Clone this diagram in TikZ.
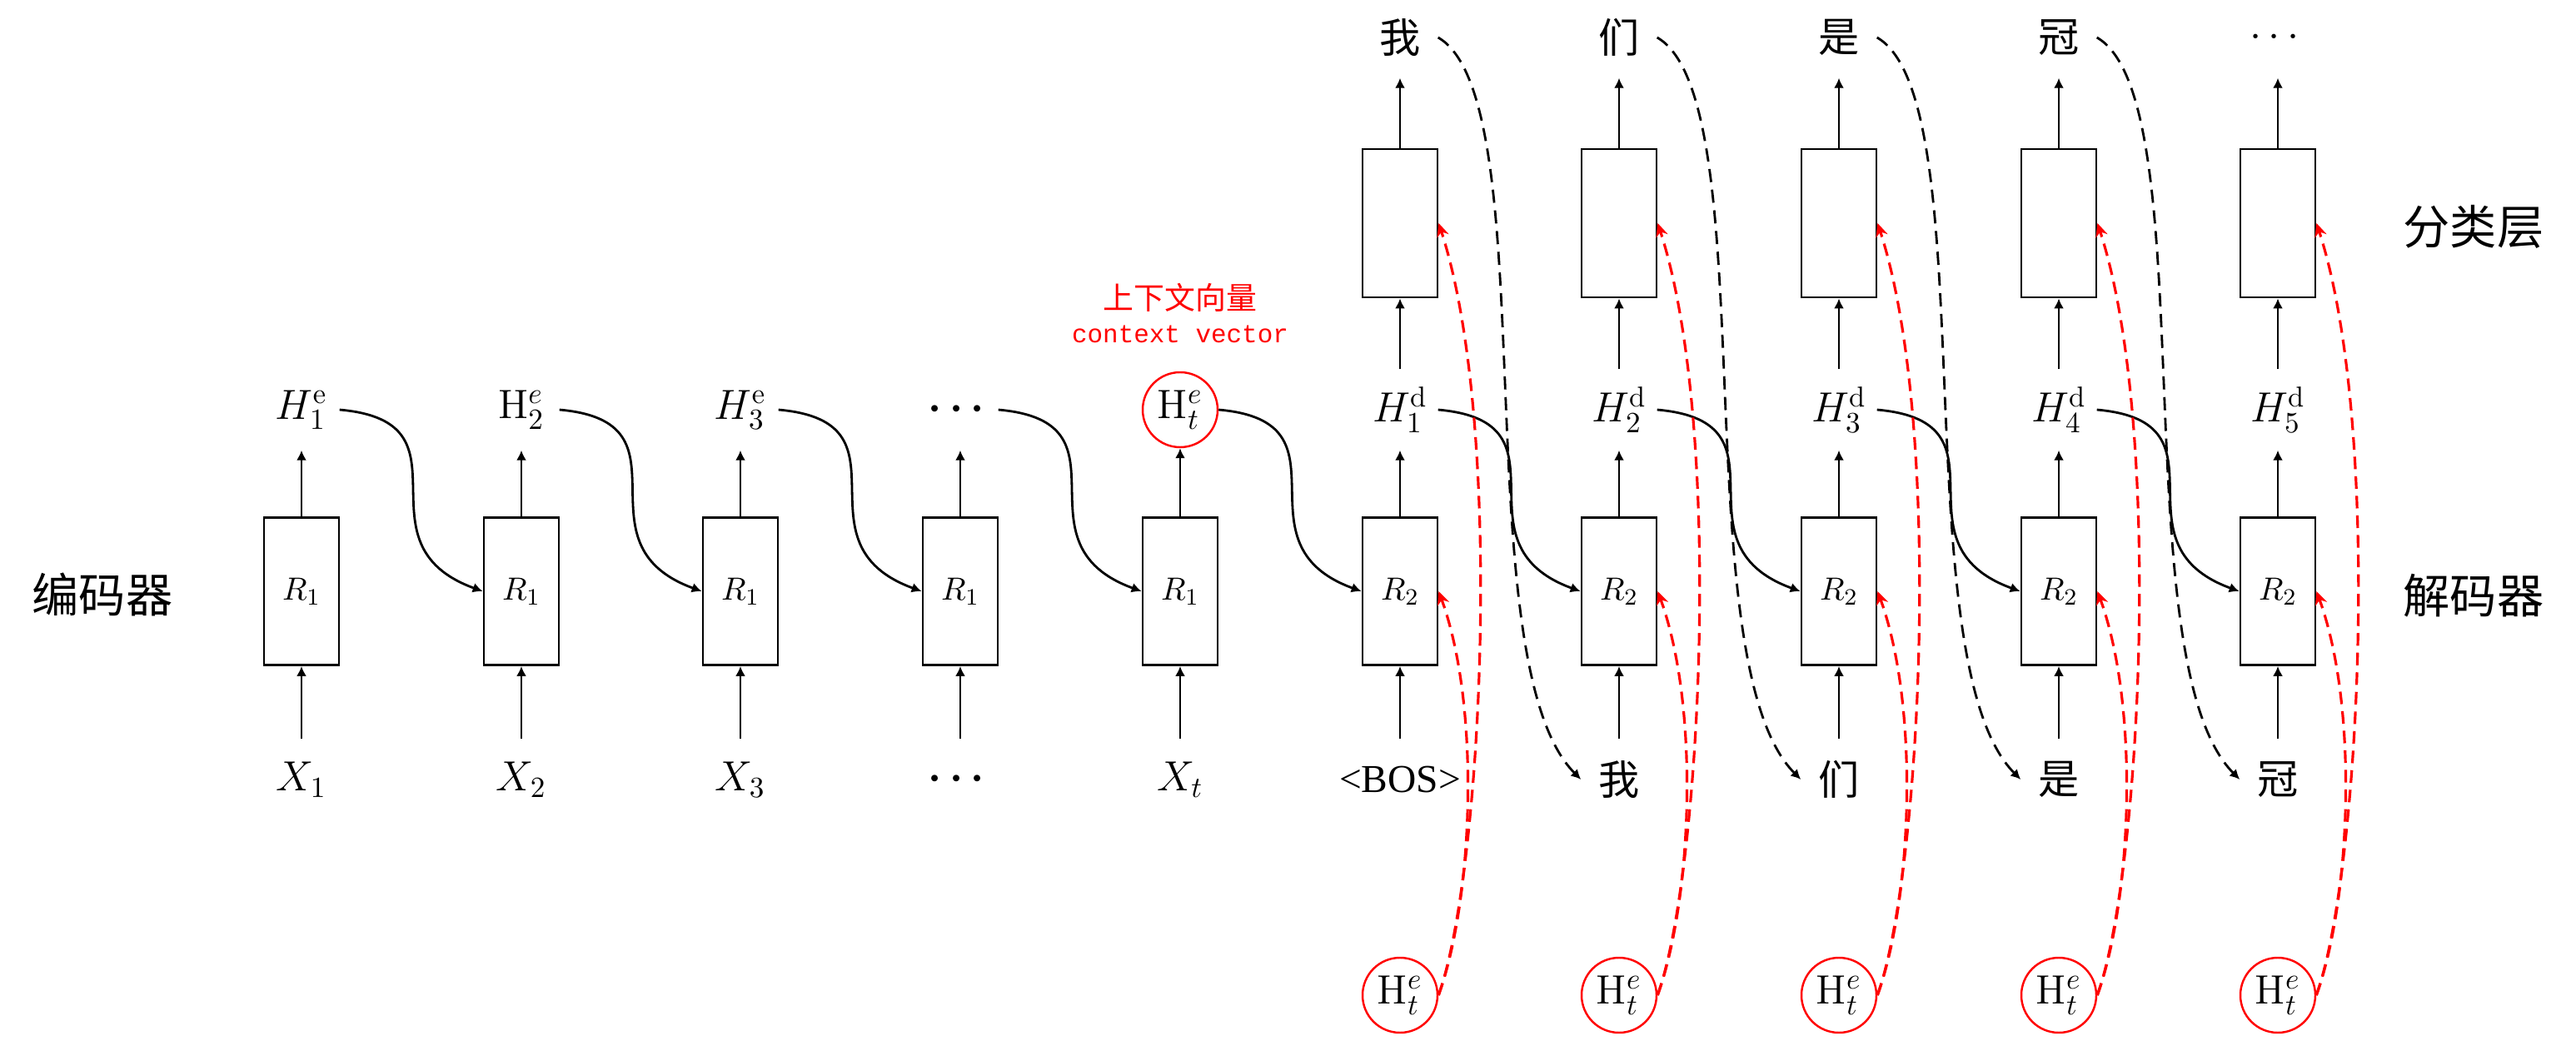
\documentclass[tikz,border=0pt]{standalone}
\usepackage{amsmath,amssymb}
\usepackage{fontspec}
\usetikzlibrary{arrows.meta}
\newfontfamily\cjk{Noto Sans CJK SC}
\newfontfamily\ctxmono{Liberation Mono}
\newfontfamily\bosfont{Liberation Serif}
\definecolor{ctxred}{RGB}{255,0,0}

\begin{document}
\begin{tikzpicture}[
  cell/.style={draw,line width=.8pt,minimum width=.9cm,minimum height=1.77cm,inner sep=0pt,font=\fontsize{11}{13}\selectfont},
  lbl/.style={minimum width=.9cm,minimum height=.96cm,inner sep=0pt,font=\fontsize{14}{16}\selectfont},
  ctxnode/.style={circle,draw=ctxred,line width=.7pt,minimum size=.9cm,inner sep=0pt,font=\fontsize{14}{16}\selectfont},
  side/.style={font=\cjk\fontsize{16}{18}\selectfont},
  flow/.style={line width=.8pt,-{Latex[length=3.4pt,width=3.4pt]}},
  feed/.style={flow,dash pattern=on 4.5pt off 2.6pt},
  attn/.style={ctxred,line width=.9pt,dash pattern=on 4.3pt off 2.4pt,-{Stealth[length=4.6pt,width=4.2pt]}}]
  \useasboundingbox (0,0) rectangle (30.93,12.49);
  % encoder
  \node[side] (enclbl) at (1.23,5.35) {编码器};
  \node[cell] (r1) at (3.62,5.39) {$R_1$};
  \node[cell] (r2) at (6.26,5.39) {$R_1$};
  \node[cell] (r3) at (8.89,5.39) {$R_1$};
  \node[cell] (r4) at (11.53,5.39) {$R_1$};
  \node[cell] (r5) at (14.17,5.39) {$R_1$};
  \node[lbl] (x1) at (3.62,3.13) {$X_1$};
  \node[lbl] (x2) at (6.26,3.13) {$X_2$};
  \node[lbl] (x3) at (8.89,3.13) {$X_3$};
  \node[lbl] (x4) at (11.53,3.13) {$\boldsymbol{\cdots}$};
  \node[lbl] (x5) at (14.17,3.13) {$X_t$};
  \node[lbl] (h1) at (3.62,7.57) {$H_1^{\mathrm{e}}$};
  \node[lbl] (h2) at (6.26,7.57) {$\mathrm{H}_2^{e}$};
  \node[lbl] (h3) at (8.89,7.57) {$H_3^{\mathrm{e}}$};
  \node[lbl] (h4) at (11.53,7.57) {$\boldsymbol{\cdots}$};
  \node[ctxnode] (e5) at (14.17,7.57) {$\mathrm{H}_t^{e}$};
  \node[font=\cjk\fontsize{10.5}{12}\selectfont,text=ctxred] (ctxzh) at (14.17,8.92) {上下文向量};
  \node[font=\ctxmono\fontsize{8.8}{10}\selectfont,text=ctxred] (ctxen) at (14.17,8.48) {context vector};
  % decoder
  \node[cell] (r6) at (16.81,5.39) {$R_2$};
  \node[cell] (r7) at (19.44,5.39) {$R_2$};
  \node[cell] (r8) at (22.08,5.39) {$R_2$};
  \node[cell] (r9) at (24.72,5.39) {$R_2$};
  \node[cell] (r10) at (27.35,5.39) {$R_2$};
  \node[cell,minimum height=1.78cm] (c6) at (16.81,9.81) {};
  \node[cell,minimum height=1.78cm] (c7) at (19.44,9.81) {};
  \node[cell,minimum height=1.78cm] (c8) at (22.08,9.81) {};
  \node[cell,minimum height=1.78cm] (c9) at (24.72,9.81) {};
  \node[cell,minimum height=1.78cm] (c10) at (27.35,9.81) {};
  \node[lbl] (x6) at (16.81,3.13) {\bosfont\fontsize{13.5}{16}\selectfont <BOS>};
  \node[lbl] (x7) at (19.44,3.13) {\cjk 我};
  \node[lbl] (x8) at (22.08,3.13) {\cjk 们};
  \node[lbl] (x9) at (24.72,3.13) {\cjk 是};
  \node[lbl] (x10) at (27.35,3.13) {\cjk 冠};
  \node[lbl] (h6) at (16.81,7.57) {$H_1^{\mathrm{d}}$};
  \node[lbl] (h7) at (19.44,7.57) {$H_2^{\mathrm{d}}$};
  \node[lbl] (h8) at (22.08,7.57) {$H_3^{\mathrm{d}}$};
  \node[lbl] (h9) at (24.72,7.57) {$H_4^{\mathrm{d}}$};
  \node[lbl] (h10) at (27.35,7.57) {$H_5^{\mathrm{d}}$};
  \node[lbl] (y6) at (16.81,12.04) {\cjk 我};
  \node[lbl] (y7) at (19.44,12.04) {\cjk 们};
  \node[lbl] (y8) at (22.08,12.04) {\cjk 是};
  \node[lbl] (y9) at (24.72,12.04) {\cjk 冠};
  \node[lbl] (y10) at (27.35,12.04) {$\cdots$};
  \node[ctxnode] (e6) at (16.81,0.54) {$\mathrm{H}_t^{e}$};
  \node[ctxnode] (e7) at (19.44,0.54) {$\mathrm{H}_t^{e}$};
  \node[ctxnode] (e8) at (22.08,0.54) {$\mathrm{H}_t^{e}$};
  \node[ctxnode] (e9) at (24.72,0.54) {$\mathrm{H}_t^{e}$};
  \node[ctxnode] (e10) at (27.35,0.54) {$\mathrm{H}_t^{e}$};
  \node[side] (clslbl) at (29.70,9.77) {分类层};
  \node[side] (declbl) at (29.70,5.34) {解码器};
  % encoder arrows
  \draw[flow] (x1.north) -- (r1.south);
  \draw[flow] (x2.north) -- (r2.south);
  \draw[flow] (x3.north) -- (r3.south);
  \draw[flow] (x4.north) -- (r4.south);
  \draw[flow] (x5.north) -- (r5.south);
  \draw[flow] (r1.north) -- (h1.south);
  \draw[flow] (r2.north) -- (h2.south);
  \draw[flow] (r3.north) -- (h3.south);
  \draw[flow] (r4.north) -- (h4.south);
  \draw[flow] (r5.north) -- (e5.south);
  \draw[flow] (h1.east) to[out=-5,in=160,looseness=1.55] (r2.west);
  \draw[flow] (h2.east) to[out=-5,in=160,looseness=1.55] (r3.west);
  \draw[flow] (h3.east) to[out=-5,in=160,looseness=1.55] (r4.west);
  \draw[flow] (h4.east) to[out=-5,in=160,looseness=1.55] (r5.west);
  \draw[flow] (e5.east) to[out=-5,in=160,looseness=1.55] (r6.west);
  % decoder arrows
  \draw[flow] (x6.north) -- (r6.south);
  \draw[flow] (x7.north) -- (r7.south);
  \draw[flow] (x8.north) -- (r8.south);
  \draw[flow] (x9.north) -- (r9.south);
  \draw[flow] (x10.north) -- (r10.south);
  \draw[flow] (r6.north) -- (h6.south);
  \draw[flow] (r7.north) -- (h7.south);
  \draw[flow] (r8.north) -- (h8.south);
  \draw[flow] (r9.north) -- (h9.south);
  \draw[flow] (r10.north) -- (h10.south);
  \draw[flow] (h6.north) -- (c6.south);
  \draw[flow] (h7.north) -- (c7.south);
  \draw[flow] (h8.north) -- (c8.south);
  \draw[flow] (h9.north) -- (c9.south);
  \draw[flow] (h10.north) -- (c10.south);
  \draw[flow] (c6.north) -- (y6.south);
  \draw[flow] (c7.north) -- (y7.south);
  \draw[flow] (c8.north) -- (y8.south);
  \draw[flow] (c9.north) -- (y9.south);
  \draw[flow] (c10.north) -- (y10.south);
  \draw[flow] (h6.east) to[out=-5,in=160,looseness=1.55] (r7.west);
  \draw[flow] (h7.east) to[out=-5,in=160,looseness=1.55] (r8.west);
  \draw[flow] (h8.east) to[out=-5,in=160,looseness=1.55] (r9.west);
  \draw[flow] (h9.east) to[out=-5,in=160,looseness=1.55] (r10.west);
  % output fed back as next input
  \draw[feed] (y6.east) .. controls +(-30:1.5) and +(135:2) .. (x7.west);
  \draw[feed] (y7.east) .. controls +(-30:1.5) and +(135:2) .. (x8.west);
  \draw[feed] (y8.east) .. controls +(-30:1.5) and +(135:2) .. (x9.west);
  \draw[feed] (y9.east) .. controls +(-30:1.5) and +(135:2) .. (x10.west);
  % context vector into every step
  \draw[attn] (e6.east) .. controls +(70:1.2) and +(-70:1.5) .. (r6.east);
  \draw[attn] (e6.east) .. controls +(70:1.5) and +(-72:2.6) .. (c6.east);
  \draw[attn] (e7.east) .. controls +(70:1.2) and +(-70:1.5) .. (r7.east);
  \draw[attn] (e7.east) .. controls +(70:1.5) and +(-72:2.6) .. (c7.east);
  \draw[attn] (e8.east) .. controls +(70:1.2) and +(-70:1.5) .. (r8.east);
  \draw[attn] (e8.east) .. controls +(70:1.5) and +(-72:2.6) .. (c8.east);
  \draw[attn] (e9.east) .. controls +(70:1.2) and +(-70:1.5) .. (r9.east);
  \draw[attn] (e9.east) .. controls +(70:1.5) and +(-72:2.6) .. (c9.east);
  \draw[attn] (e10.east) .. controls +(70:1.2) and +(-70:1.5) .. (r10.east);
  \draw[attn] (e10.east) .. controls +(70:1.5) and +(-72:2.6) .. (c10.east);
\end{tikzpicture}
\end{document}
